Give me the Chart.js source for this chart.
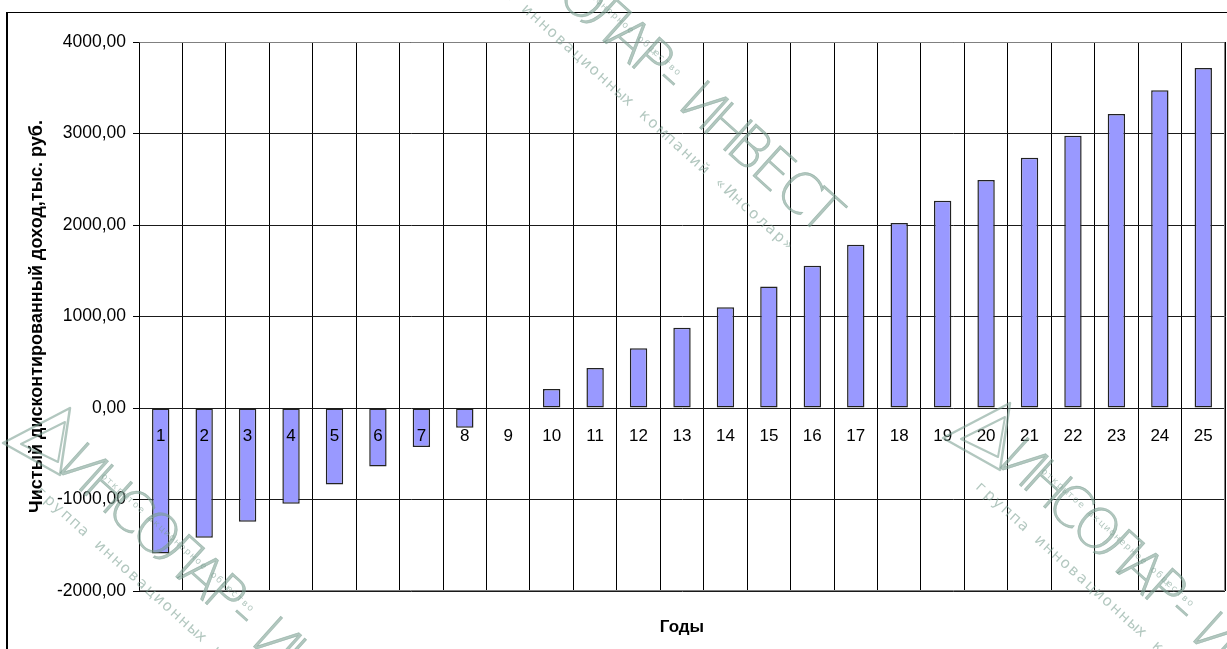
<!DOCTYPE html>
<html>
<head>
<meta charset="utf-8">
<script src="https://cdn.jsdelivr.net/npm/chart.js@4/dist/chart.umd.min.js"></script>
<style>
  html, body { margin: 0; padding: 0; background: #ffffff; }
  #wrap { width: 1227px; height: 649px; position: relative; }
  canvas { display: block; }
</style>
</head>
<body>
<div id="wrap"><canvas id="npv" width="1227" height="649"></canvas></div>
<script>
// Годы расчётного периода
const years = ['1', '2', '3', '4', '5', '6', '7', '8', '9', '10', '11', '12', '13',
               '14', '15', '16', '17', '18', '19', '20', '21', '22', '23', '24', '25'];

// Чистый дисконтированный доход по годам, тыс. руб.
const npvValues = [-1590, -1419, -1244, -1047, -835, -638, -427, -215, 0, 208, 438, 653, 876,
                   1102, 1329, 1555, 1785, 2022, 2265, 2491, 2735, 2976, 3213, 3472, 3716];

// Деления оси значений
const yTicks = [-2000, -1000, 0, 1000, 2000, 3000, 4000];

const yTitle = 'Чистый дисконтированный доход,тыс. руб.';
const xTitle = 'Годы';

const FONT = '"Liberation Sans", Arial, sans-serif';

function fmt(v) {
  return v.toFixed(2).replace('.', ',');
}

// Белый фон и рамка области диаграммы
const framePlugin = {
  id: 'frame',
  beforeDraw(chart) {
    const ctx = chart.ctx;
    ctx.save();
    ctx.fillStyle = '#ffffff';
    ctx.fillRect(0, 0, chart.width, chart.height);
    ctx.fillStyle = '#000000';
    ctx.fillRect(6, 12, 2, chart.height - 12);
    ctx.fillRect(6, 12, chart.width - 6, 1);
    ctx.restore();
  }
};

// Серая рамка области построения
const plotBorderPlugin = {
  id: 'plotBorder',
  beforeDatasetsDraw(chart) {
    const {ctx, chartArea: a} = chart;
    ctx.save();
    ctx.strokeStyle = '#808080';
    ctx.lineWidth = 1;
    ctx.beginPath();
    ctx.moveTo(Math.round(a.left) + 0.5, Math.round(a.top) + 0.5);
    ctx.lineTo(Math.round(a.right) - 0.5, Math.round(a.top) + 0.5);
    ctx.lineTo(Math.round(a.right) - 0.5, Math.round(a.bottom) - 0.5);
    ctx.lineTo(Math.round(a.left) + 0.5, Math.round(a.bottom) - 0.5);
    ctx.stroke();
    ctx.restore();
  }
};

// Подписи категорий вдоль нулевой линии
const yearLabelsPlugin = {
  id: 'yearLabels',
  afterDatasetsDraw(chart) {
    const {ctx, scales: {x, y}} = chart;
    const y0 = y.getPixelForValue(0);
    ctx.save();
    ctx.fillStyle = '#000000';
    ctx.font = '17px ' + FONT;
    ctx.textAlign = 'center';
    ctx.textBaseline = 'middle';
    years.forEach((label, i) => {
      ctx.fillText(label, x.getPixelForValue(i), y0 + 28);
    });
    ctx.restore();
  }
};

// Фирменный знак и надпись поверх диаграммы
const watermarkPlugin = {
  id: 'watermark',
  afterDraw(chart) {
    const ctx = chart.ctx;
    const marks = [[482, -68], [55, 468], [995, 463]];
    const main = 'ИНСОЛАР-ИНВЕСТ';
    const sub = 'группа инновационных компаний «Инсолар»';
    const top = 'открытое акционерное общество';
    const angle = 42 * Math.PI / 180;
    ctx.save();
    ctx.globalAlpha = 0.58;
    ctx.fillStyle = '#7a9f90';
    ctx.strokeStyle = '#7a9f90';
    marks.forEach(([bx, by]) => {
      // логотип: двойной треугольник
      ctx.save();
      ctx.translate(bx, by);
      ctx.lineWidth = 2.5;
      ctx.lineJoin = 'round';
      ctx.beginPath();
      ctx.moveTo(15, -60); ctx.lineTo(-52, -25); ctx.lineTo(5, 7); ctx.closePath();
      ctx.stroke();
      ctx.lineWidth = 2;
      ctx.beginPath();
      ctx.moveTo(10, -46); ctx.lineTo(-34, -24); ctx.lineTo(3, -6); ctx.closePath();
      ctx.stroke();
      ctx.restore();

      ctx.save();
      ctx.translate(bx, by);
      ctx.rotate(angle);
      ctx.font = '200 56px "DejaVu Sans", sans-serif';
      ctx.textBaseline = 'alphabetic';
      ctx.textAlign = 'left';
      ctx.lineWidth = 0.6;
      for (let i = 0; i < main.length; i++) {
        ctx.fillText(main[i], i * 32.5, 0);
        ctx.strokeText(main[i], i * 32.5, 0);
      }
      ctx.font = '15px "DejaVu Sans", sans-serif';
      for (let i = 0; i < sub.length; i++) {
        ctx.fillText(sub[i], 2 + i * 11.3, 32);
      }
      ctx.font = '9px "DejaVu Sans", sans-serif';
      for (let i = 0; i < top.length; i++) {
        ctx.fillText(top[i], 40 + i * 7, -24);
      }
      ctx.restore();
    });
    ctx.restore();
  }
};

new Chart(document.getElementById('npv'), {
  type: 'bar',
  data: {
    labels: years,
    datasets: [{
      data: npvValues,
      backgroundColor: '#9999ff',
      borderColor: '#222222',
      borderWidth: 1.5,
      borderSkipped: false,
      barPercentage: 0.4,
      categoryPercentage: 1.0
    }]
  },
  options: {
    responsive: false,
    animation: false,
    devicePixelRatio: 1,
    layout: { padding: { top: 42, right: 2, left: 0, bottom: 0 } },
    plugins: {
      legend: { display: false },
      tooltip: { enabled: false },
      title: { display: false }
    },
    scales: {
      x: {
        offset: true,
        grid: { display: true, offset: true, color: '#000000', lineWidth: 1, drawTicks: false },
        border: { display: false },
        ticks: { display: false },
        title: {
          display: true,
          text: xTitle,
          color: '#000000',
          font: { family: FONT, size: 17, weight: 'bold' },
          padding: { top: 27, bottom: 11 }
        },
        afterFit(scale) { scale.height = 58; }
      },
      y: {
        min: -2000,
        max: 4000,
        afterBuildTicks(scale) {
          scale.ticks = yTicks.map(v => ({ value: v }));
        },
        grid: { color: '#1a1a1a', lineWidth: 1, drawTicks: true, tickLength: 6, tickColor: '#000000' },
        border: { display: true, color: '#000000', width: 1 },
        ticks: {
          color: '#000000',
          font: { family: FONT, size: 17.5 },
          padding: 7,
          callback: (v) => fmt(v)
        },
        title: {
          display: true,
          text: yTitle,
          color: '#000000',
          font: { family: FONT, size: 18, weight: 'bold' },
          padding: { top: 26, bottom: 0 }
        },
        afterFit(scale) { scale.width = 139; }
      }
    }
  },
  plugins: [framePlugin, plotBorderPlugin, yearLabelsPlugin, watermarkPlugin]
});
</script>
</body>
</html>
